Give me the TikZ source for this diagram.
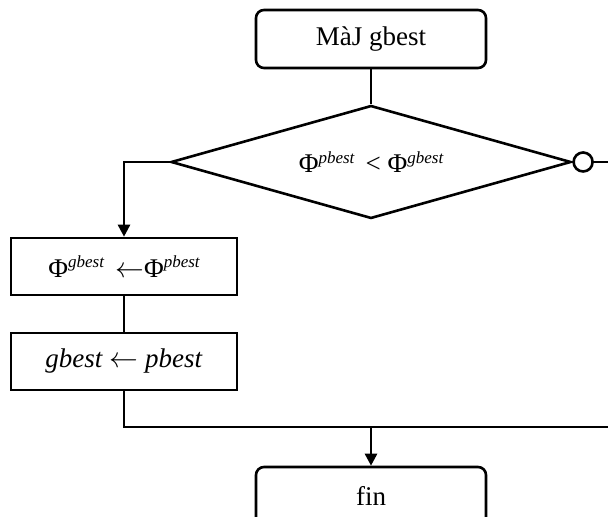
\documentclass[tikz,border=0pt]{standalone}
\usepackage{fontspec}
\setmainfont{Liberation Serif}
\usetikzlibrary{shapes.geometric,arrows.meta}

\newcommand{\phisup}[1]{Φ\raisebox{0.75ex}{\itshape\fontsize{8.5}{8.5}\selectfont #1}}

\begin{document}
\begin{tikzpicture}[
    x=0.5pt, y=-0.5pt,
    every node/.style={
        draw,
        line width=1.3pt,
        font=\fontsize{13.5}{16}\selectfont
    },
    term/.style={
        rectangle,
        rounded corners=4pt,
        minimum width=115pt,
        minimum height=29pt
    },
    proc/.style={
        rectangle,
        minimum width=113pt,
        minimum height=28.5pt
    },
    test/.style={
        diamond,
        aspect=3.5,
        inner sep=0pt,
        minimum width=200pt,
        minimum height=56.5pt
    }
]
\useasboundingbox (0,0) rectangle (608,517);

% noeuds
\node[term] (maj) at (371,39) {MàJ gbest};
\node[test] (cmp) at (371,162) {\phisup{pbest}\, < \phisup{gbest}};
\node[circle, minimum size=9.5pt, inner sep=0pt, anchor=west] (non) at (cmp.east) {};
\node[proc] (b1) at (124,266.5) {\phisup{gbest}\, $\leftarrow$\phisup{pbest}};
\node[proc] (b2) at (124,361.5) {\textit{gbest} $\leftarrow$ \textit{pbest}};
\node[term, minimum width=115pt] (fin) at (371,496) {fin};

\coordinate (rt) at (612,162);
\coordinate (join) at (371,427);

% liens
\draw[line width=1.3pt] (maj) -- (cmp.north);
\draw[line width=1.3pt, -{Triangle[length=6pt,width=6pt]}] (cmp.west) -| (b1.north);
\draw[line width=1.3pt] (b1) -- (b2);
\draw[line width=1.3pt] (b2.south) |- (join);
\draw[line width=1.3pt] (non.east) -- (rt) |- (join);
\draw[line width=1.3pt, -{Triangle[length=6pt,width=6pt]}] (join) -- (fin.north);

\end{tikzpicture}
\end{document}
